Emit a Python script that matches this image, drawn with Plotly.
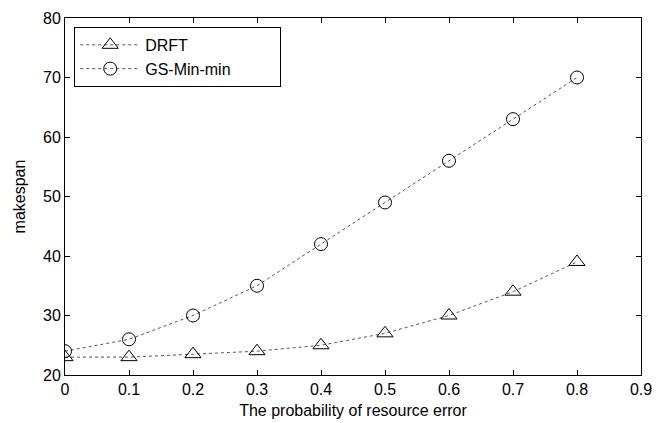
import plotly.graph_objects as go

x_vals = [0, 0.1, 0.2, 0.3, 0.4, 0.5, 0.6, 0.7, 0.8]
drft = [23, 23, 23.5, 24, 25, 27, 30, 34, 39]
gs_minmin = [24, 26, 30, 35, 42, 49, 56, 63, 70]
x_ticks = [0, 0.1, 0.2, 0.3, 0.4, 0.5, 0.6, 0.7, 0.8, 0.9]
y_ticks = [20, 30, 40, 50, 60, 70, 80]
series_names = ["DRFT", "GS-Min-min"]

FONT = "Liberation Sans, Arial"
NB = "\u00a0"

fig = go.Figure()
fig.add_trace(go.Scatter(
    x=x_vals, y=drft, name=series_names[0] + NB * 10, mode="lines+markers",
    line=dict(color="#555555", width=1, dash="dot"),
    marker=dict(symbol="triangle-up-open", size=14, color="black", line=dict(width=1))))
fig.add_trace(go.Scatter(
    x=x_vals, y=gs_minmin, name=series_names[1] + NB * 10, mode="lines+markers",
    line=dict(color="#555555", width=1, dash="dot"),
    marker=dict(symbol="circle-open", size=13, color="black", line=dict(width=1))))

axis_common = dict(showline=True, linecolor="black", linewidth=1, mirror="ticks",
                   ticks="inside", ticklen=5, tickcolor="black", showgrid=False,
                   zeroline=False, automargin=False,
                   tickfont=dict(family=FONT, size=16, color="black"))
fig.update_xaxes(range=[0, 0.9], tickvals=x_ticks, ticktext=[f"{t:g}" for t in x_ticks],
                 title=dict(text="The probability of resource error", standoff=7,
                            font=dict(family=FONT, size=16, color="black")),
                 **axis_common)
fig.update_yaxes(range=[20, 80], tickvals=y_ticks,
                 title=dict(text="makespan", standoff=13,
                            font=dict(family=FONT, size=16, color="black")),
                 **axis_common)
fig.update_layout(
    width=671, height=423, paper_bgcolor="white", plot_bgcolor="white",
    margin=dict(l=65, r=30, t=18, b=48, autoexpand=False),
    font=dict(family=FONT, color="black"),
    legend=dict(x=0.016, y=0.975, xanchor="left", yanchor="top",
                bordercolor="black", borderwidth=1, bgcolor="white",
                font=dict(family=FONT, size=16, color="black"),
                itemwidth=60, tracegroupgap=0),
)
fig.write_html("out.html", config={"displayModeBar": False},
               post_script="document.body.style.margin='0';")
